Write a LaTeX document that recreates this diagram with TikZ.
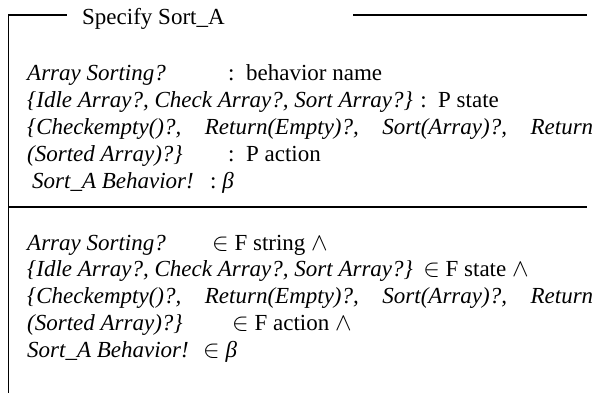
\documentclass[tikz,border=0pt]{standalone}
\usepackage{fontspec}
\setmainfont{Liberation Serif}
\begin{document}
\begin{tikzpicture}[x=1pt,y=-1pt,
  txt/.style={anchor=base west, inner sep=0pt, font=\fontsize{23}{27}\selectfont},
  rule/.style={line width=1.6pt, line cap=rect}]
\useasboundingbox (0,0) rectangle (602,393);
% frame coordinates
\coordinate (tl) at (8.5,15);
\coordinate (bl) at (8.5,393);
\coordinate (ta) at (66,15);
\coordinate (tb) at (354,15);
\coordinate (tc) at (586,15);
\coordinate (ml) at (8.5,207);
\coordinate (mr) at (586,207);
\draw[rule] (bl) -- (tl) -- (ta);
\draw[rule] (tb) -- (tc);
\draw[rule] (ml) -- (mr);
% title
\node[txt] (title) at (82,25) {Specify Sort\_A};
% upper part
\node[txt] (a1) at (27,81) {\itshape Array Sorting?};
\node[txt] (b1) at (228,81) {:\ \ behavior name};
\node[txt] (a2) at (27,107.75) {\itshape \{Idle Array?, Check Array?, Sort Array?\}};
\node[txt] (b2) at ([xshift=7pt]a2.base east) {:\ \ P state};
\node[txt] (a3) at (27,134.5) {\hbox to 566pt{\itshape \{Checkempty()?,\hfill Return(Empty)?,\hfill Sort(Array)?,\hfill Return}};
\node[txt] (a4) at (27,161.25) {\itshape (Sorted Array)?\}};
\node[txt] (b4) at (228,161.25) {:\ \ P action};
\node[txt] (a5) at (32,188) {\itshape Sort\_A Behavior!};
\node[txt] (b5) at ([xshift=16pt]a5.base east) {:\ \textit{β}};
% lower part
\node[txt] (c1) at (27,250) {\itshape Array Sorting?};
\node[txt] (d1) at (212,250) {$\in$ F string $\wedge$};
\node[txt] (c2) at (27,276.75) {\itshape \{Idle Array?, Check Array?, Sort Array?\}};
\node[txt] (d2) at ([xshift=10pt]c2.base east) {$\in$ F state $\wedge$};
\node[txt] (c3) at (27,303.5) {\hbox to 566pt{\itshape \{Checkempty()?,\hfill Return(Empty)?,\hfill Sort(Array)?,\hfill Return}};
\node[txt] (c4) at (27,330.25) {\itshape (Sorted Array)?\}};
\node[txt] (d4) at (232,330.25) {$\in$ F action $\wedge$};
\node[txt] (c5) at (27,357) {\itshape Sort\_A Behavior!};
\node[txt] (d5) at ([xshift=14pt]c5.base east) {$\in$ \textit{β}};
\end{tikzpicture}
\end{document}
